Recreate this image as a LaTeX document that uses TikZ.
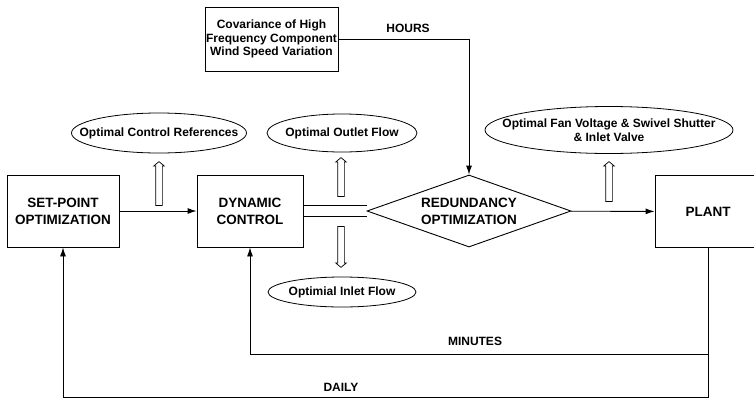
\documentclass[tikz,border=0pt]{standalone}
\usepackage{fontspec}
\setmainfont{Liberation Sans}
\usetikzlibrary{shapes.geometric,shapes.arrows,arrows.meta,backgrounds}

\newcommand{\boxfont}{\fontsize{13.5}{17}\selectfont\bfseries}
\newcommand{\tagfont}{\fontsize{12}{13.5}\selectfont\bfseries}

\begin{document}
\begin{tikzpicture}[x=1pt,y=-1pt,
    blk/.style={draw,line width=0.9pt,align=center,font=\boxfont,inner sep=0pt,minimum height=72pt},
    bubble/.style={draw,ellipse,line width=0.8pt,inner sep=0pt},
    flow/.style={line width=0.9pt,-{Latex[length=9pt,width=6pt]}},
    hollow/.style={draw,single arrow,line width=0.7pt,inner sep=3pt,single arrow head extend=2pt,single arrow tip angle=100,fill=white},
    every label/.style={font=\tagfont,align=center}]

      \useasboundingbox (0,0) rectangle (754,399);

      % main chain of blocks
      \node[blk,minimum width=112pt] (sp) at (63,211) {SET-POINT\\OPTIMIZATION};
      \node[blk,minimum width=106pt] (dc) at (250,211) {DYNAMIC\\CONTROL};
      \node[blk,diamond,aspect=2.83,minimum width=204pt,fill=white] (ro) at (469,211) {REDUNDANCY\\OPTIMIZATION};
      \node[blk,minimum width=106pt] (pl) at (708,211.5) {PLANT};
      \node[blk,font=\tagfont,minimum width=133pt,minimum height=64pt] (cov) at (271.5,39)
        {Covariance of High\\Frequency Component\\Wind Speed Variation};

      % outputs
      \node[bubble,minimum width=175pt,minimum height=40pt,label=center:{Optimal Control References}] (ocr) at (159,133) {};
      \node[bubble,minimum width=150pt,minimum height=38pt,label=center:{Optimal Outlet Flow}] (oof) at (342,133) {};
      \node[bubble,minimum width=148pt,minimum height=30pt,label=center:{Optimial Inlet Flow}] (oif) at (342,292) {};
      \node[bubble,minimum width=248pt,minimum height=47pt,label=center:{Optimal Fan Voltage \& Swivel Shutter\\\& Inlet Valve}] (ofv) at (609,130) {};

      \node[hollow,minimum height=44pt,shape border rotate=90] (u1) at (159,185) {};
      \node[hollow,minimum height=39pt,shape border rotate=90] (u2) at (341,178.5) {};
      \node[hollow,minimum height=41pt,shape border rotate=270] (d1) at (341,245.5) {};
      \node[hollow,minimum height=40pt,shape border rotate=90] (u3) at (609,183) {};

      % forward links
      \draw[flow] (sp) -- (dc);
      \draw[flow] (ro) -- (pl);
      \draw[flow] (cov.east) -| (ro.north);
      \begin{scope}[on background layer]
        \draw[line width=0.9pt,double distance=10pt] (dc.east) -- (ro.west);
      \end{scope}

      % feedback loops
      \coordinate (minrow) at (0,354);
      \coordinate (dayrow) at (0,397);
      \draw[flow] (pl.south) |- (dc.south |- minrow) -- (dc.south);
      \draw[flow] (pl.south) |- (sp.south |- dayrow) -- (sp.south);

      \node[font=\tagfont] (hrs) at (408,28) {HOURS};
      \node[font=\tagfont] (mins) at (475,341) {MINUTES};
      \node[font=\tagfont] (day) at (341,387) {DAILY};

\end{tikzpicture}
\end{document}
